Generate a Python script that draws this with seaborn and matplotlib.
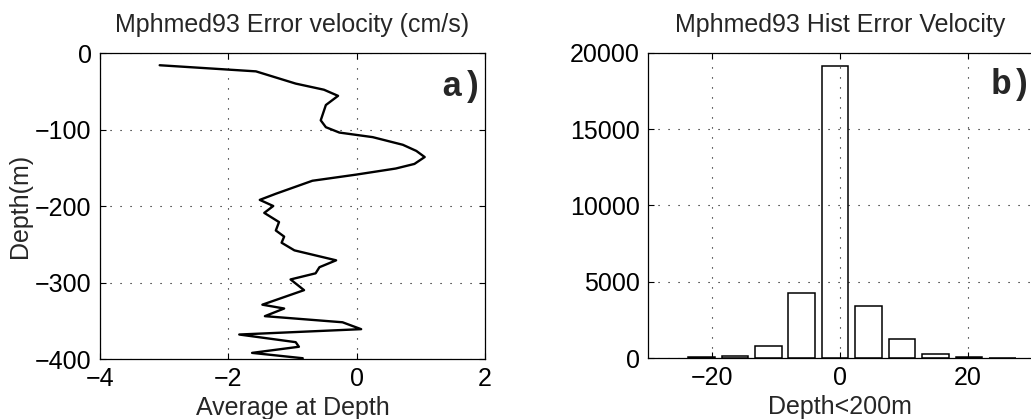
import matplotlib
matplotlib.use("Agg")
import matplotlib.pyplot as plt
import seaborn as sns
import pandas as pd

# Mean error velocity profile (cm/s) against depth (m)
profile_velocity = [-3.07, -1.57, -0.95, -0.51, -0.29, -0.48, -0.56, -0.48, -0.27,
                    0.25, 0.72, 0.93, 1.06, 0.90, 0.61, -0.01, -0.69, -1.26, -1.51,
                    -1.30, -1.44, -1.21, -1.26, -1.13, -1.17, -0.97, -0.32, -0.58,
                    -0.64, -1.03, -0.82, -1.47, -1.13, -1.43, -0.22, -0.06, 0.07,
                    -1.83, -0.95, -0.90, -1.63, -0.84]
profile_depth = [-16, -24, -40, -48, -56, -68, -88, -97, -104,
                 -110, -120, -128, -136, -145, -151, -159, -167, -184, -192,
                 -200, -209, -221, -232, -240, -248, -258, -271, -280,
                 -288, -296, -310, -329, -334, -344, -352, -357, -361,
                 -368, -378, -384, -392, -399]

# Histogram of error velocity above 200 m
bin_centers = [-21.6, -16.4, -11.2, -6.0, -0.8, 4.45, 9.7, 14.9, 20.15, 25.4]
bin_counts = [40, 130, 790, 4280, 19180, 3430, 1240, 280, 60, 15]

left_xticks = [-4, -2, 0, 2]
left_yticks = [0, -100, -200, -300, -400]
right_xticks = [-20, 0, 20]
right_yticks = [0, 5000, 10000, 15000, 20000]

sns.set_style("ticks")
plt.rcParams["font.family"] = ["Liberation Sans", "DejaVu Sans"]
plt.rcParams["axes.linewidth"] = 0.9
plt.rcParams["axes.edgecolor"] = "black"

W, H = 1031, 419
fig = plt.figure(figsize=(W / 100, H / 100), dpi=100)

def frac_rect(x0, y0, x1, y1):
    return [x0 / W, 1 - y1 / H, (x1 - x0) / W, (y1 - y0) / H]

ax1 = fig.add_axes(frac_rect(100, 53, 485, 359))
ax2 = fig.add_axes(frac_rect(648, 53, 1032, 358))

FS = 18
grid_kw = dict(color="black", linestyle=(0, (1, 8)), linewidth=0.8)
tick_kw = dict(direction="in", length=4, width=0.8, labelsize=FS, colors="black", pad=6)
label_font = ["Liberation Mono", "DejaVu Sans Mono"]

# Panel a: depth profile
prof = pd.DataFrame({"velocity": profile_velocity, "depth": profile_depth})
sns.lineplot(data=prof, x="velocity", y="depth", sort=False, estimator=None,
             color="black", linewidth=1.7, ax=ax1)
ax1.set_xlim(-4, 2)
ax1.set_ylim(-400, 0)
ax1.set_xticks(left_xticks)
ax1.set_yticks(left_yticks)
ax1.grid(True, **grid_kw)
ax1.tick_params(top=True, right=True, **tick_kw)
ax1.set_title("Mphmed93 Error velocity (cm/s)", fontsize=FS, pad=15)
ax1.set_xlabel("Average at Depth", fontsize=FS, labelpad=3)
ax1.set_ylabel("Depth(m)", fontsize=FS, labelpad=2)
ax1.text(0.995, 0.892, "a)", transform=ax1.transAxes, ha="right", va="center",
         fontsize=25, fontweight="bold", family=label_font)
for s in ax1.spines.values():
    s.set_visible(True)

# Panel b: histogram
hist = pd.DataFrame({"center": bin_centers, "count": bin_counts})
sns.barplot(data=hist, x="center", y="count", native_scale=True, width=0.8,
            color="white", edgecolor="black", linewidth=1.1, ax=ax2)
ax2.set_xlim(-30, 30)
ax2.set_ylim(0, 20000)
ax2.set_xticks(right_xticks)
ax2.set_yticks(right_yticks)
ax2.grid(True, **grid_kw)
ax2.set_axisbelow(False)
ax2.tick_params(top=True, right=False, **tick_kw)
ax2.set_title("Mphmed93 Hist Error Velocity", fontsize=FS, pad=15)
ax2.set_xlabel("Depth<200m", fontsize=FS, labelpad=3)
ax2.set_ylabel("")
ax2.text(1.0, 0.897, "b)", transform=ax2.transAxes, ha="right", va="center",
         fontsize=25, fontweight="bold", family=label_font)
for s in ax2.spines.values():
    s.set_visible(True)

fig.savefig("out.png", dpi=100, facecolor="white")
